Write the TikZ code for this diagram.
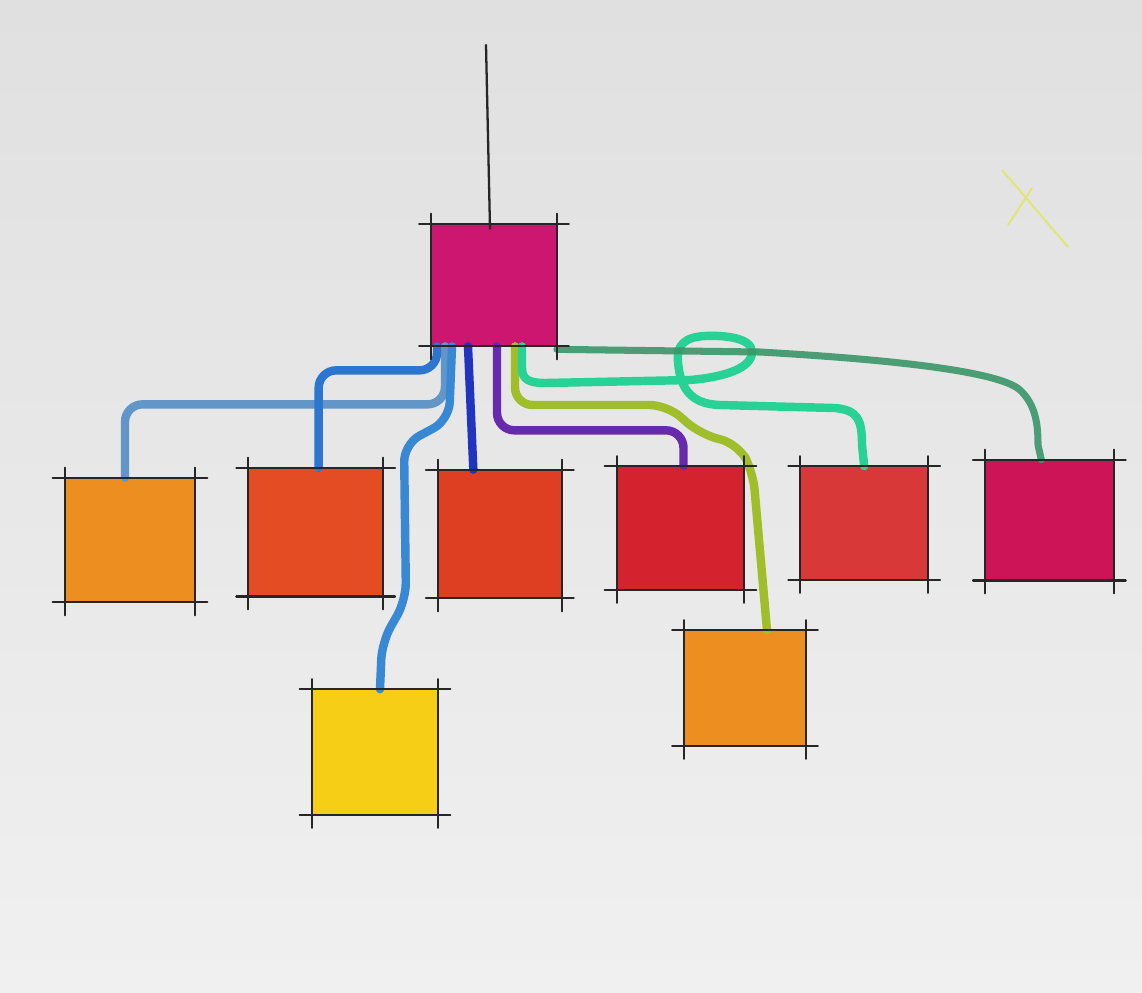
\documentclass[tikz,border=0pt]{standalone}
\usetikzlibrary{positioning}

\definecolor{paperTop}{RGB}{224,224,224}
\definecolor{paperBot}{RGB}{240,240,240}
\definecolor{plum}{RGB}{204,22,112}
\definecolor{amber}{RGB}{236,142,32}
\definecolor{vermil}{RGB}{228,76,36}
\definecolor{vermilB}{RGB}{222,62,34}
\definecolor{crimson}{RGB}{212,34,46}
\definecolor{coral}{RGB}{216,56,56}
\definecolor{berry}{RGB}{204,20,86}
\definecolor{lemon}{RGB}{246,206,22}
\definecolor{steel}{RGB}{98,150,200}
\definecolor{azure}{RGB}{44,118,208}
\definecolor{cobaltL}{RGB}{56,136,212}
\definecolor{cobalt}{RGB}{32,52,192}
\definecolor{violet}{RGB}{104,42,172}
\definecolor{lime}{RGB}{160,190,42}
\definecolor{mint}{RGB}{40,210,150}
\definecolor{pine}{RGB}{58,150,104}
\definecolor{chalk}{RGB}{222,230,120}

\tikzset{
    tile/.style={rectangle, draw=none, inner sep=0pt, minimum width=2.5cm, minimum height=2.5cm},
    ink/.style={line width=1.3pt, black!85, line cap=round},
    wire/.style={line width=4.8pt, line cap=round, line join=round, rounded corners=0.35cm}
}

% hand-drawn frame lines round a tile
\newcommand{\sketchbox}[1]{%
    \draw[ink] ([xshift=-0.24cm]#1.north west) -- ([xshift=0.24cm]#1.north east);
    \draw[ink] ([xshift=-0.24cm]#1.south west) -- ([xshift=0.24cm]#1.south east);
    \draw[ink] ([yshift=0.2cm]#1.north west) -- ([yshift=-0.26cm]#1.south west);
    \draw[ink] ([yshift=0.2cm]#1.north east) -- ([yshift=-0.26cm]#1.south east);
}

\begin{document}
\begin{tikzpicture}[x=0.02cm, y=-0.02cm]
    % Paper
    \useasboundingbox (0,0) rectangle (1142,992);
    \shade[top color=paperTop, bottom color=paperBot] (0,0) rectangle (1142,992);

    % Tiles
    \node[tile, fill=plum, minimum height=2.44cm] (hub) at (494,285) {};
    \node[tile, fill=amber, minimum width=2.6cm, minimum height=2.48cm] (s1) at (130,540) {};
    \node[tile, fill=vermil, minimum width=2.68cm, minimum height=2.56cm, right=1.06cm of s1, yshift=0.16cm] (s2) {};
    \node[tile, fill=vermilB, minimum width=2.46cm, minimum height=2.56cm, right=1.1cm of s2, yshift=-0.04cm] (s3) {};
    \node[tile, fill=crimson, minimum width=2.54cm, minimum height=2.46cm, right=1.1cm of s3, yshift=0.12cm] (s4) {};
    \node[tile, fill=coral, minimum width=2.54cm, minimum height=2.26cm, right=1.12cm of s4, yshift=0.1cm] (s5) {};
    \node[tile, fill=berry, minimum width=2.56cm, minimum height=2.4cm, right=1.14cm of s5, yshift=0.06cm] (s6) {};
    \node[tile, fill=lemon, minimum width=2.52cm] (low1) at (375,752) {};
    \node[tile, fill=amber, minimum width=2.42cm, minimum height=2.3cm] (low2) at (745,688) {};

    % Stem
    \coordinate (stem) at (486,45);
    \draw[ink] (stem) -- ([xshift=-0.08cm, yshift=-0.1cm]hub.north);

    % Wires
    \draw[wire, steel] ([xshift=-0.98cm]hub.south) -- ++(0,58) -| ([xshift=-0.1cm]s1.north);
    \draw[wire, azure] ([xshift=-1.14cm]hub.south) -- ++(0,24) -| ([xshift=0.06cm]s2.north);
    \draw[wire, cobaltL] ([xshift=-0.84cm]hub.south) -- (449,420) -- (404,444) -- (406,600) -- (382,642) -- ([xshift=0.1cm]low1.north);
    \draw[wire, cobalt] ([xshift=-0.52cm]hub.south) -- ([xshift=-0.53cm]s3.north);
    \draw[wire, violet] ([xshift=0.06cm]hub.south) -- ++(0,84) -| ([xshift=0.06cm]s4.north);
    \draw[wire, lime] ([xshift=0.42cm]hub.south) -- (515,405) -- (667,405) -- (700,434) -- (738,444) -- (753,472) -- ([xshift=0.44cm]low2.north);
    \draw[wire, mint, sharp corners] ([xshift=0.56cm]hub.south) -- (522,368)
        .. controls (522,380) and (530,383) .. (545,383) -- (690,380)
        .. controls (725,377) and (752,368) .. (752,352)
        .. controls (752,338) and (725,335) .. (705,336)
        .. controls (685,337) and (676,345) .. (678,362)
        .. controls (680,385) and (688,404) .. (720,405)
        -- (835,408) .. controls (858,410) and (862,420) .. (862,445) -- (s5.north);
    \draw[wire, pine, sharp corners, line width=4pt, opacity=0.9] ([yshift=-0.06cm]hub.south east) -- (760,352)
        .. controls (900,360) and (1000,372) .. (1020,390)
        .. controls (1036,405) and (1038,425) .. (1038,445) -- ([xshift=-0.16cm]s6.north);

    % Frames
    \foreach \t in {hub, s1, s2, s3, s4, s5, s6, low1, low2} {
        \sketchbox{\t}
    }

    % Stray mark
    \coordinate (markA) at (1002,170);
    \coordinate (markB) at (1068,247);
    \coordinate (markC) at (1032,188);
    \coordinate (markD) at (1008,225);
    \draw[chalk, line width=1.2pt] (markA) -- (markB);
    \draw[chalk, line width=1.2pt] (markC) -- (markD);
\end{tikzpicture}
\end{document}
